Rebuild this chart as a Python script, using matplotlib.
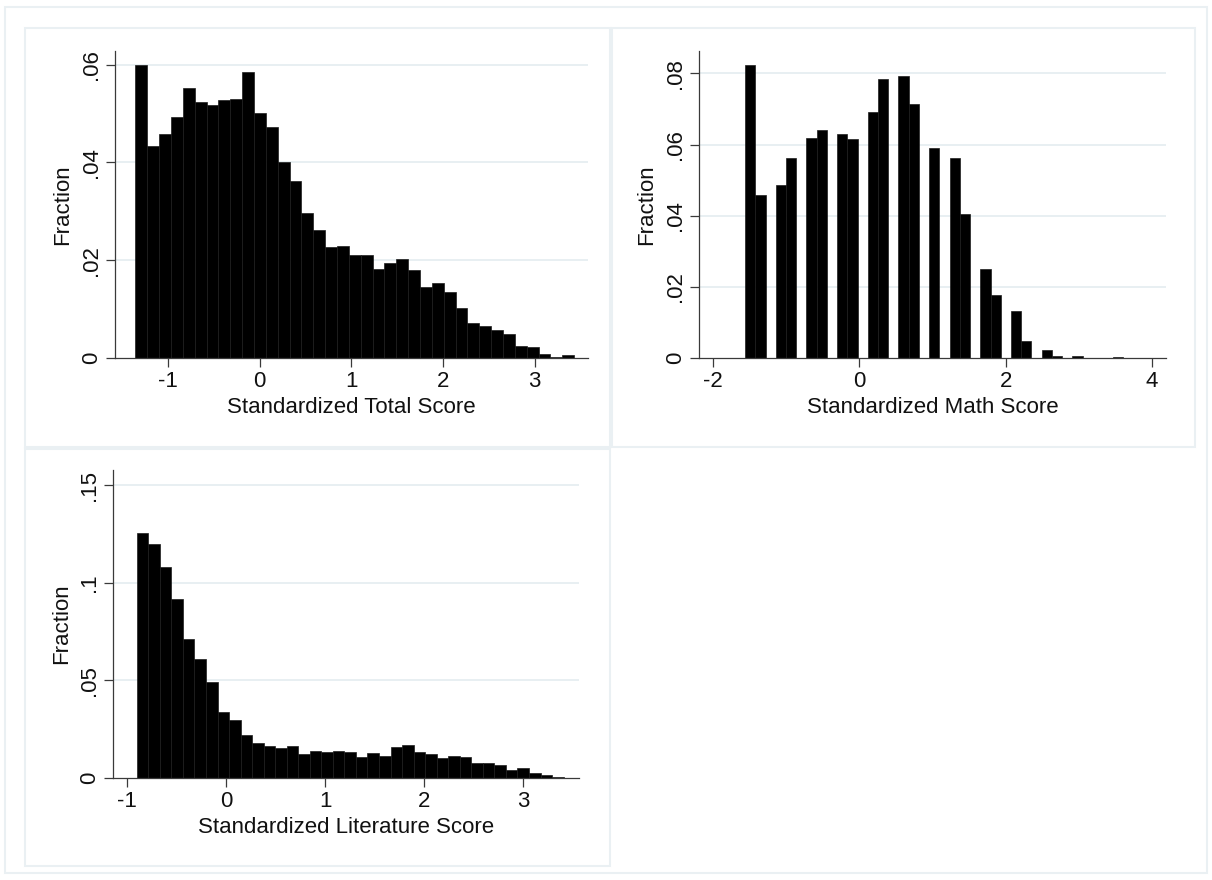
import matplotlib
matplotlib.use("Agg")
import matplotlib.pyplot as plt
from matplotlib.patches import Rectangle
import numpy as np

plt.rcParams['font.family'] = ['Liberation Sans', 'DejaVu Sans']

# histogram data (fraction per bin)
total_start, total_width = -1.352, 0.1292
total_frac = [0.0600, 0.0433, 0.0458, 0.0493, 0.0552, 0.0524, 0.0518, 0.0527,
              0.0530, 0.0585, 0.0501, 0.0472, 0.0401, 0.0363, 0.0296, 0.0262,
              0.0226, 0.0229, 0.0210, 0.0210, 0.0181, 0.0195, 0.0203, 0.0180,
              0.0144, 0.0153, 0.0134, 0.0102, 0.0072, 0.0064, 0.0056, 0.0048,
              0.0024, 0.0021, 0.0008, 0.0001, 0.0005]

math_start, math_width = -1.56, 0.1397
math_frac = [0.0824, 0.0458, 0, 0.0485, 0.0561, 0, 0.0618, 0.0641, 0,
             0.0629, 0.0616, 0, 0.0691, 0.0784, 0, 0.0793, 0.0714, 0,
             0.0591, 0, 0.0563, 0.0405, 0, 0.0249, 0.0176, 0, 0.0132,
             0.0046, 0, 0.0023, 0.0005, 0, 0.0004, 0, 0, 0, 0.0003]

lit_start, lit_width = -0.905, 0.1165
lit_frac = [0.1252, 0.1196, 0.1080, 0.0917, 0.0711, 0.0608, 0.0492, 0.0336,
            0.0294, 0.0219, 0.0176, 0.0160, 0.0154, 0.0163, 0.0121, 0.0137,
            0.0134, 0.0137, 0.0134, 0.0104, 0.0125, 0.0109, 0.0157, 0.0167,
            0.0134, 0.0121, 0.0101, 0.0109, 0.0104, 0.0075, 0.0075, 0.0063,
            0.0037, 0.0049, 0.0022, 0.0016, 0.0006]

total_yticks = [0, 0.02, 0.04, 0.06]
total_ylabels = ['0', '.02', '.04', '.06']
math_yticks = [0, 0.02, 0.04, 0.06, 0.08]
math_ylabels = ['0', '.02', '.04', '.06', '.08']
lit_yticks = [0, 0.05, 0.1, 0.15]
lit_ylabels = ['0', '.05', '.1', '.15']

W, H = 1212, 880
fig = plt.figure(figsize=(W / 100, H / 100), dpi=100)
fig.patch.set_facecolor('white')

frame_col = '#eaf0f3'
grid_col = '#e6eef1'
axis_col = '#3a3a3a'
fs = 16


def px_rect(l, t, r, b):
    return [l / W, 1 - b / H, (r - l) / W, (b - t) / H]


# outer frame and panel boxes
fig.add_artist(Rectangle((5 / W, 1 - 873 / H), 1202 / W, 866 / H,
                         transform=fig.transFigure, fill=False,
                         edgecolor=frame_col, lw=1.5))
for (l, t, r, b) in [(25, 28, 610, 447), (612, 28, 1195, 447), (25, 449, 610, 866)]:
    fig.add_artist(Rectangle((l / W, 1 - b / H), (r - l) / W, (b - t) / H,
                             transform=fig.transFigure, fill=False,
                             edgecolor=frame_col, lw=1.5))


def panel(box, start, width, frac, xlim, ymax, xticks, yticks, ylabels, xlabel):
    ax = fig.add_axes(px_rect(*box))
    edges = start + width * np.arange(len(frac))
    ax.bar(edges, frac, width=width, align='edge', color='black',
           edgecolor='#1c1c1c', linewidth=0.5, zorder=2)
    ax.set_xlim(*xlim)
    ax.set_ylim(0, ymax)
    ax.set_xticks(xticks)
    ax.set_xticklabels([str(t) for t in xticks])
    ax.set_yticks(yticks)
    ax.set_yticklabels(ylabels, rotation=90, va='center')
    for y in yticks[1:]:
        ax.axhline(y, color=grid_col, lw=1.3, zorder=0)
    for s in ['top', 'right']:
        ax.spines[s].set_visible(False)
    for s in ['left', 'bottom']:
        ax.spines[s].set_color(axis_col)
        ax.spines[s].set_linewidth(0.9)
    ax.tick_params(direction='out', length=6.5, width=0.9, color=axis_col,
                   labelsize=fs, labelcolor='#111111', pad=3)
    pw = box[2] - box[0]
    ph = box[3] - box[1]
    ax.set_xlabel(xlabel, fontsize=fs, color='#111111', va='center')
    ax.xaxis.set_label_coords(0.5, -50 / ph)
    ax.set_ylabel('Fraction', fontsize=fs, color='#111111', va='center')
    ax.yaxis.set_label_coords(-52 / pw, 0.5)
    return ax


panel((115, 50.7, 588, 357.7), total_start, total_width, total_frac,
      (-1.575, 3.58), 0.0629, [-1, 0, 1, 2, 3],
      total_yticks, total_ylabels, 'Standardized Total Score')
panel((699, 50.7, 1166, 357.7), math_start, math_width, math_frac,
      (-2.19, 4.19), 0.0864, [-2, 0, 2, 4],
      math_yticks, math_ylabels, 'Standardized Math Score')
panel((113.4, 470, 578.6, 777.7), lit_start, lit_width, lit_frac,
      (-1.141, 3.557), 0.1577, [-1, 0, 1, 2, 3],
      lit_yticks, lit_ylabels, 'Standardized Literature Score')

fig.savefig('out.png', dpi=100)
